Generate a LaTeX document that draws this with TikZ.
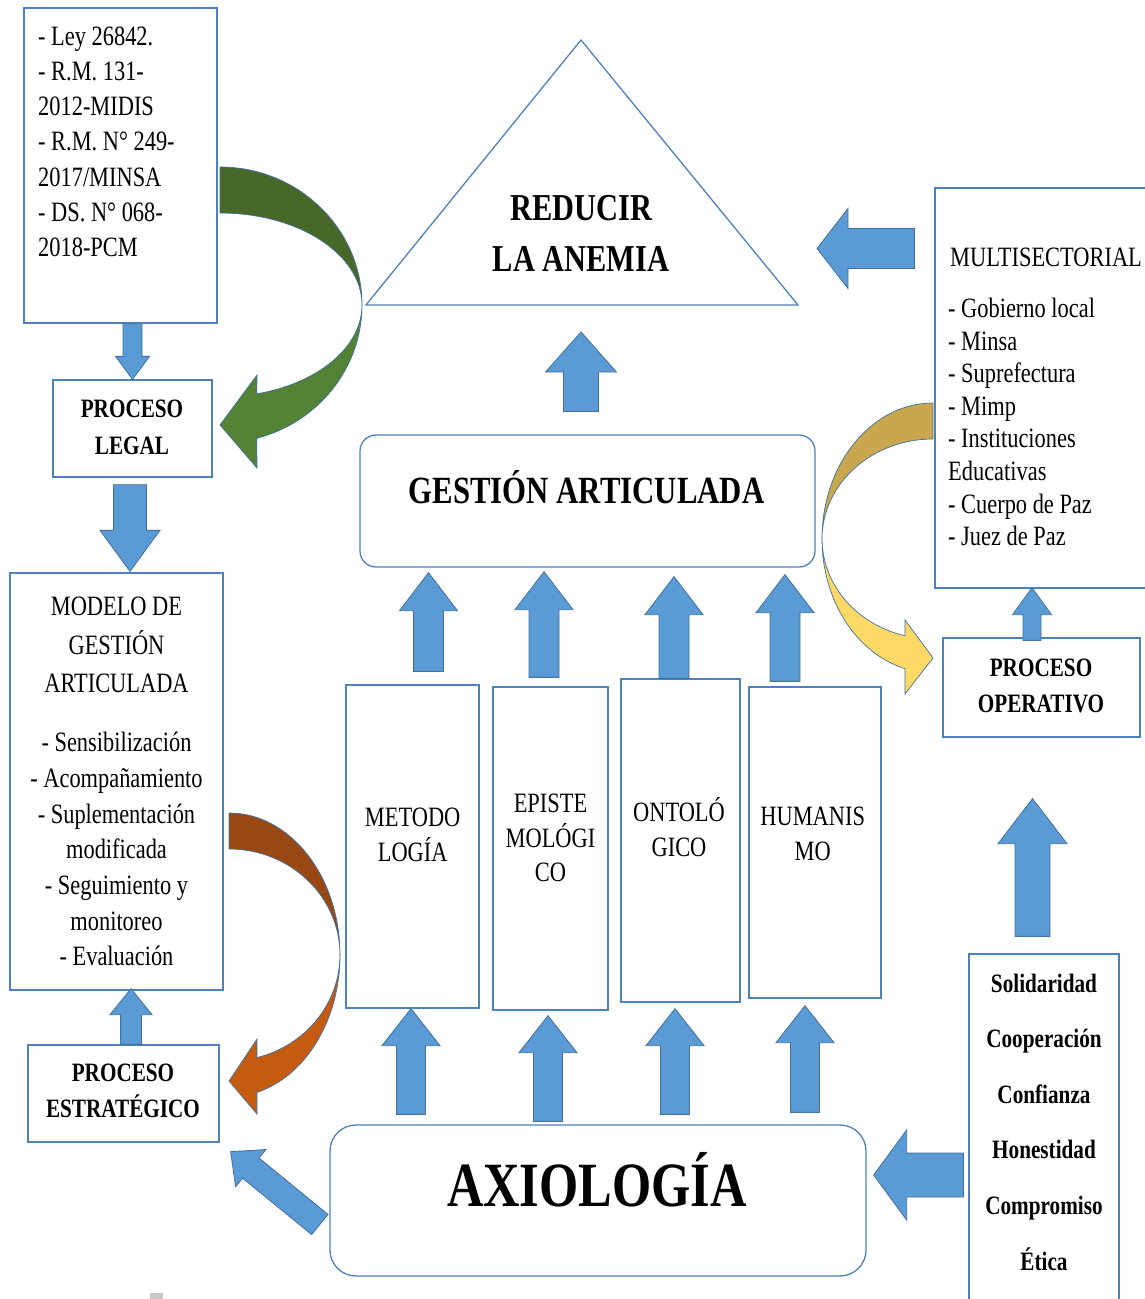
\documentclass[tikz,border=0pt]{standalone}
\usepackage{fontspec}
\setmainfont{Liberation Serif}[FakeStretch=0.8]
\usetikzlibrary{calc}
\definecolor{boxblue}{RGB}{79,129,189}
\definecolor{arrblue}{RGB}{91,155,213}
\definecolor{arredge}{RGB}{65,113,156}
\definecolor{greendk}{RGB}{72,104,42}
\definecolor{greenlt}{RGB}{84,130,53}
\definecolor{browndk}{RGB}{152,72,18}
\definecolor{orangelt}{RGB}{197,90,17}
\definecolor{golddk}{RGB}{201,167,78}
\definecolor{yellowlt}{RGB}{255,217,102}

% block arrow: tail, tip, shaft half width, head half width, head length
\newcommand{\blockarrow}[5]{%
  \coordinate (ba-a) at (#1);
  \coordinate (ba-b) at (#2);
  \coordinate (ba-h) at ($(ba-b)!#5!(ba-a)$);
  \filldraw[blockarr]
    ($(ba-a)!#3!90:(ba-b)$) -- ($(ba-h)!#3!90:(ba-b)$) -- ($(ba-h)!#4!90:(ba-b)$)
    -- (ba-b) -- ($(ba-h)!#4!-90:(ba-b)$) -- ($(ba-h)!#3!-90:(ba-b)$)
    -- ($(ba-a)!#3!-90:(ba-b)$) -- cycle;
}

\begin{document}
\begin{tikzpicture}[x=1pt, y=1pt,
  box/.style={draw=boxblue, line width=1.3pt, inner sep=0pt},
  txt/.style={inner sep=0pt, font=\fontsize{28pt}{34pt}\selectfont},
  lbl/.style={inner sep=0pt, font=\fontsize{26.5pt}{32pt}\selectfont\bfseries},
  blockarr/.style={fill=arrblue, draw=arredge, line width=0.8pt},
  bendarr/.style={draw=arredge, line width=0.7pt}]
  % --- canvas ---
  \fill[white] (0,0) rectangle (1145,-1299);
  \useasboundingbox (0,0) rectangle (1145,-1299);

  % --- left column: laws, legal, model, strategic ---
  \node[box, minimum width=193pt, minimum height=315pt] (laws) at (120.5,-165.5) {};
  \node[box, minimum width=159pt, minimum height=97pt]  (legal) at (132.5,-428.5) {};
  \node[box, minimum width=213pt, minimum height=417pt] (modelo) at (116.5,-781.5) {};
  \node[box, minimum width=191pt, minimum height=97pt]  (estrategico) at (123.5,-1093.5) {};
  \foreach \t [count=\i from 0] in {- Ley 26842., - R.M. 131-, 2012-MIDIS, - R.M. N° 249-,
                                    {2017/MINSA}, - DS. N° 068-, 2018-PCM}{
    \node[txt, anchor=base west] (laws-\i) at (38,{-45-35.3*\i}) {\t};
  }
  \foreach \t/\y [count=\i] in {PROCESO/417, LEGAL/454}
    \node[lbl, anchor=base] (legal-\i) at (132,-\y) {\t};
  \foreach \t/\y [count=\i] in {MODELO DE/615.5, GESTIÓN/654, ARTICULADA/692}
    \node[txt, anchor=base] (modelo-h\i) at (116.5,-\y) {\t};
  \foreach \t [count=\i from 0] in {- Sensibilización, - Acompañamiento, - Suplementación,
                                    modificada, - Seguimiento y, monitoreo, - Evaluación}{
    \node[txt, anchor=base] (modelo-\i) at (116.5,{-751.6-35.7*\i}) {\t};
  }
  \foreach \t/\y [count=\i] in {PROCESO/1081, ESTRATÉGICO/1117}
    \node[lbl, anchor=base] (estrategico-\i) at (123,-\y) {\t};

  % --- centre: goal, articulated management, pillars, axiology ---
  \draw[boxblue, line width=1.3pt, line join=miter]
    (581,-40) coordinate (apex) -- (798,-305) coordinate (baseR)
    -- (366,-305) coordinate (baseL) -- cycle;
  \node[inner sep=0pt, anchor=base, font=\fontsize{38pt}{40pt}\selectfont\bfseries]
    (goal-1) at (581.5,-220.7) {REDUCIR};
  \node[inner sep=0pt, anchor=base, font=\fontsize{38pt}{40pt}\selectfont\bfseries]
    (goal-2) at (581,-271.7) {LA ANEMIA};
  \node[box, rounded corners=16pt, minimum width=455pt, minimum height=132pt]
    (gestion) at (587.5,-501) {};
  \node[inner sep=0pt, anchor=base, font=\fontsize{38.5pt}{40pt}\selectfont\bfseries]
    (gestion-t) at (586.5,-503.3) {GESTIÓN ARTICULADA};
  \node[box, minimum width=133pt, minimum height=323pt] (c1) at (412.5,-846.5) {};
  \node[box, minimum width=115pt, minimum height=323pt] (c2) at (550.5,-848.5) {};
  \node[box, minimum width=119pt, minimum height=323pt] (c3) at (680.5,-840.5) {};
  \node[box, minimum width=132pt, minimum height=311pt] (c4) at (815,-842.5) {};
  \foreach \t/\y [count=\i] in {METODO/826.7, LOGÍA/861.7}
    \node[txt, anchor=base] (c1-\i) at (412.7,-\y) {\t};
  \foreach \t/\y [count=\i] in {EPISTE/812.7, MOLÓGI/847, CO/881.7}
    \node[txt, anchor=base] (c2-\i) at (550.5,-\y) {\t};
  \foreach \t/\y [count=\i] in {ONTOLÓ/821.7, GICO/856}
    \node[txt, anchor=base] (c3-\i) at (679,-\y) {\t};
  \foreach \t/\y [count=\i] in {HUMANIS/825, MO/860}
    \node[txt, anchor=base] (c4-\i) at (812.7,-\y) {\t};
  \node[box, rounded corners=26pt, minimum width=536pt, minimum height=151pt]
    (axio) at (598,-1200.5) {};
  \node[inner sep=0pt, anchor=base, font=\fontsize{63pt}{66pt}\selectfont\bfseries]
    (axio-t) at (597,-1206) {AXIOLOGÍA};

  % --- right column: sectors, operative, values ---
  \node[box, minimum width=215pt, minimum height=400pt] (multi) at (1042.5,-388) {};
  \node[box, minimum width=197pt, minimum height=99pt]  (operativo) at (1041.5,-687.5) {};
  \node[box, minimum width=150pt, minimum height=356pt] (values) at (1044,-1132) {};
  \node[txt, anchor=base west] (multi-h) at (950,-266) {MULTISECTORIAL};
  \foreach \t [count=\i from 0] in {- Gobierno local, - Minsa, - Suprefectura, - Mimp,
                                    - Instituciones, Educativas, - Cuerpo de Paz, - Juez de Paz}{
    \node[txt, anchor=base west] (multi-\i) at (948,{-317.5-32.6*\i}) {\t};
  }
  \foreach \t/\y [count=\i] in {PROCESO/676, OPERATIVO/712}
    \node[lbl, anchor=base] (operativo-\i) at (1041,-\y) {\t};
  \foreach \t [count=\i from 0] in {Solidaridad, Cooperación, Confianza, Honestidad,
                                    Compromiso, Ética}{
    \node[lbl, anchor=base] (val-\i) at (1044,{-992-55.6*\i}) {\t};
  }

  % --- straight block arrows ---
  \blockarrow{laws.south -| legal.north}{legal.north}{9.5pt}{17pt}{23pt}
  \blockarrow{$(legal.south)+(-2.5,-7)$}{$(legal.south |- modelo.north)+(-2.5,1)$}{16.5pt}{30pt}{41pt}
  \blockarrow{$(estrategico.north)+(7.5,0)$}{$(estrategico.north |- modelo.south)+(7.5,2)$}{10.5pt}{21pt}{26pt}
  \blockarrow{$(gestion.north -| apex)+(0,23)$}{$(baseL -| apex)+(0,-27)$}{17.5pt}{35.5pt}{40pt}
  \blockarrow{$(multi.west)+(-20,139.5)$}{$(baseR)+(19,56.5)$}{20pt}{40pt}{31pt}
  \foreach \c/\dx/\ta/\tb in {c1/16/13/5, c2/-6.5/9/4, c3/-6.5/0/9, c4/-30/5/7}{
    \blockarrow{$(\c.north)+(\dx,\ta)$}{$(\c.north |- gestion.south)+(\dx,-\tb)$}{15pt}{29pt}{38pt}
  }
  \foreach \c/\dx/\ta/\tb in {c1/-1.5/10/0, c2/-2.5/3/5, c3/-5.5/10/6, c4/-10/12/7}{
    \blockarrow{$(\c.south |- axio.north)+(\dx,\ta)$}{$(\c.south)+(\dx,-\tb)$}{14.5pt}{29pt}{37pt}
  }
  \blockarrow{$(axio.west)+(-9.5,-24)$}{$(estrategico.south east)+(11,-9)$}{13pt}{24pt}{26pt}
  \blockarrow{$(values.north)+(-11.5,17)$}{$(operativo.south)+(-9,-61)$}{17.5pt}{34.5pt}{45pt}
  \blockarrow{$(values.west)+(-5,-43)$}{$(axio.east)+(7,25.5)$}{22pt}{45pt}{33pt}
  \blockarrow{$(operativo.north)+(-9.5,-3)$}{$(multi.south)+(-10.5,1)$}{9pt}{19.5pt}{27pt}

  % --- curved arrows (dark back half, light front half with head) ---
  \filldraw[bendarr, fill=greendk] (220,-167)
    arc[start angle=90, end angle=0, x radius=142, y radius=138]
    arc[start angle=0, end angle=90, x radius=142, y radius=92] -- cycle;
  \filldraw[bendarr, fill=greenlt] (362,-305)
    arc[start angle=0, end angle=-75, x radius=142, y radius=138]
    -- (257,-468) -- (220,-425) -- (257,-375) -- (256.75,-393.9)
    arc[start angle=-75, end angle=0, x radius=142, y radius=92] -- cycle;
  \filldraw[bendarr, fill=browndk] (229,-813)
    arc[start angle=90, end angle=0, x radius=111, y radius=142]
    arc[start angle=0, end angle=90, x radius=111, y radius=106] -- cycle;
  \filldraw[bendarr, fill=orangelt] (340,-955)
    arc[start angle=0, end angle=-75.4, x radius=111, y radius=142]
    -- (257,-1114) -- (229,-1081) -- (257,-1039) -- (256.9,-1057.6)
    arc[start angle=-75.4, end angle=0, x radius=111, y radius=106] -- cycle;
  \filldraw[bendarr, fill=golddk] (933,-403)
    arc[start angle=90, end angle=180, x radius=111, y radius=136]
    arc[start angle=180, end angle=90, x radius=111, y radius=100] -- cycle;
  \filldraw[bendarr, fill=yellowlt] (822,-539)
    arc[start angle=180, end angle=255.4, x radius=111, y radius=134]
    -- (905,-694) -- (933,-658) -- (905,-620) -- (905.1,-635.8)
    arc[start angle=255.4, end angle=180, x radius=111, y radius=100] -- cycle;

  % --- stray mark at the bottom edge ---
  \fill[black!22] (150,-1293) rectangle (163,-1300);
\end{tikzpicture}
\end{document}
